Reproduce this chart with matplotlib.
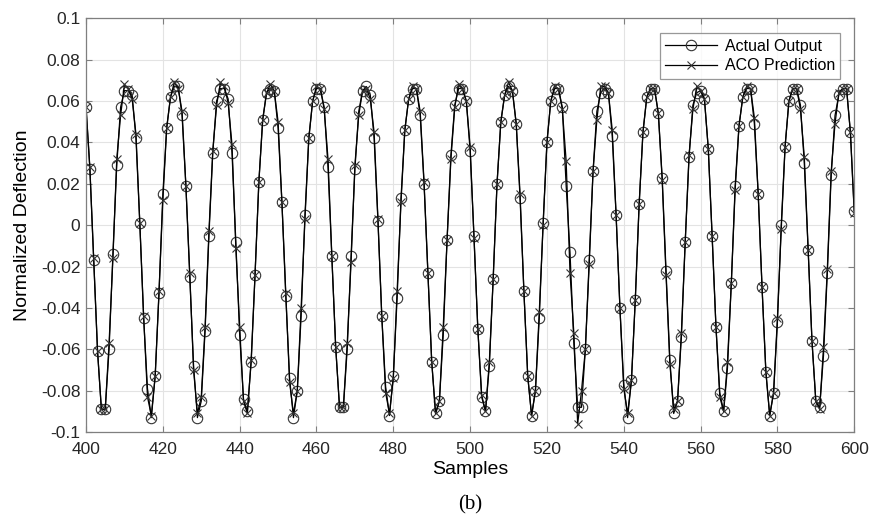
import matplotlib
matplotlib.use("Agg")
import matplotlib.pyplot as plt
import numpy as np

plt.rcParams['font.family'] = ['Liberation Sans', 'DejaVu Sans']
plt.rcParams['axes.unicode_minus'] = False

# sample index 400..600
samples = list(range(400, 601))

actual_output = [
    0.057, 0.027, -0.017, -0.061, -0.089, -0.089, -0.060, -0.014, 0.029, 0.057,   # 400-409
    0.065, 0.065, 0.063, 0.042, 0.001, -0.045, -0.079, -0.093, -0.073, -0.033,    # 410-419
    0.015, 0.047, 0.062, 0.067, 0.067, 0.053, 0.019, -0.025, -0.068, -0.093,      # 420-429
    -0.085, -0.051, -0.005, 0.035, 0.060, 0.066, 0.066, 0.061, 0.035, -0.008,     # 430-439
    -0.053, -0.084, -0.090, -0.066, -0.024, 0.021, 0.051, 0.064, 0.066, 0.065,    # 440-449
    0.047, 0.011, -0.034, -0.074, -0.093, -0.080, -0.044, 0.005, 0.042, 0.060,    # 450-459
    0.066, 0.066, 0.057, 0.028, -0.015, -0.059, -0.088, -0.088, -0.060, -0.015,   # 460-469
    0.027, 0.055, 0.065, 0.067, 0.063, 0.042, 0.002, -0.044, -0.078, -0.092,      # 470-479
    -0.073, -0.035, 0.013, 0.046, 0.061, 0.066, 0.066, 0.053, 0.020, -0.023,      # 480-489
    -0.066, -0.091, -0.085, -0.053, -0.007, 0.034, 0.058, 0.066, 0.066, 0.060,    # 490-499
    0.036, -0.005, -0.050, -0.083, -0.090, -0.068, -0.026, 0.020, 0.050, 0.063,   # 500-509
    0.067, 0.065, 0.049, 0.013, -0.032, -0.073, -0.092, -0.080, -0.045, 0.001,    # 510-519
    0.040, 0.060, 0.066, 0.066, 0.057, 0.019, -0.013, -0.057, -0.088, -0.088,     # 520-529
    -0.060, -0.017, 0.026, 0.055, 0.064, 0.066, 0.064, 0.043, 0.005, -0.040,      # 530-539
    -0.077, -0.093, -0.075, -0.036, 0.010, 0.045, 0.062, 0.066, 0.066, 0.054,     # 540-549
    0.023, -0.022, -0.065, -0.091, -0.085, -0.054, -0.008, 0.033, 0.058, 0.064,   # 550-559
    0.065, 0.061, 0.037, -0.005, -0.049, -0.081, -0.090, -0.069, -0.028, 0.019,   # 560-569
    0.048, 0.062, 0.066, 0.066, 0.049, 0.015, -0.030, -0.071, -0.092, -0.081,     # 570-579
    -0.047, 0.000, 0.038, 0.060, 0.066, 0.066, 0.058, 0.030, -0.012, -0.056,      # 580-589
    -0.085, -0.088, -0.063, -0.023, 0.024, 0.053, 0.063, 0.066, 0.066, 0.045,     # 590-599
    0.007,                                                                         # 600
]

aco_prediction = [
    0.057, 0.028, -0.016, -0.061, -0.089, -0.089, -0.057, -0.016, 0.032, 0.053,   # 400-409
    0.068, 0.066, 0.061, 0.044, 0.001, -0.044, -0.083, -0.092, -0.073, -0.032,    # 410-419
    0.012, 0.047, 0.062, 0.069, 0.066, 0.055, 0.019, -0.023, -0.070, -0.091,      # 420-429
    -0.083, -0.049, -0.003, 0.036, 0.058, 0.069, 0.067, 0.059, 0.039, -0.011,     # 430-439
    -0.049, -0.085, -0.091, -0.065, -0.024, 0.021, 0.051, 0.064, 0.068, 0.065,    # 440-449
    0.050, 0.011, -0.033, -0.076, -0.091, -0.080, -0.040, 0.003, 0.042, 0.060,    # 450-459
    0.067, 0.066, 0.056, 0.032, -0.015, -0.059, -0.088, -0.088, -0.057, -0.018,   # 460-469
    0.029, 0.053, 0.065, 0.066, 0.061, 0.045, 0.003, -0.044, -0.081, -0.091,      # 470-479
    -0.074, -0.032, 0.011, 0.046, 0.061, 0.067, 0.066, 0.055, 0.021, -0.023,      # 480-489
    -0.066, -0.091, -0.085, -0.049, -0.007, 0.032, 0.057, 0.068, 0.066, 0.060,    # 490-499
    0.038, -0.006, -0.050, -0.082, -0.090, -0.066, -0.026, 0.020, 0.050, 0.063,   # 500-509
    0.069, 0.065, 0.049, 0.015, -0.032, -0.073, -0.092, -0.080, -0.042, 0.000,    # 510-519
    0.040, 0.060, 0.067, 0.066, 0.056, 0.031, -0.023, -0.052, -0.096, -0.080,     # 520-529
    -0.060, -0.019, 0.026, 0.051, 0.067, 0.067, 0.064, 0.046, 0.005, -0.040,      # 530-539
    -0.079, -0.091, -0.075, -0.036, 0.010, 0.045, 0.062, 0.066, 0.066, 0.054,     # 540-549
    0.022, -0.024, -0.067, -0.089, -0.085, -0.052, -0.008, 0.034, 0.056, 0.067,   # 550-559
    0.065, 0.061, 0.037, -0.005, -0.049, -0.083, -0.090, -0.066, -0.028, 0.017,   # 560-569
    0.048, 0.062, 0.067, 0.066, 0.052, 0.015, -0.030, -0.071, -0.092, -0.081,     # 570-579
    -0.045, -0.002, 0.038, 0.060, 0.066, 0.066, 0.056, 0.033, -0.012, -0.056,     # 580-589
    -0.085, -0.089, -0.059, -0.021, 0.026, 0.049, 0.064, 0.066, 0.066, 0.045,     # 590-599
    0.006,                                                                         # 600
]

xticks = list(range(400, 601, 20))
yticks = [0.1, 0.08, 0.06, 0.04, 0.02, 0, -0.02, -0.04, -0.06, -0.08, -0.1]
ytick_labels = ['0.1', '0.08', '0.06', '0.04', '0.02', '0',
                '-0.02', '-0.04', '-0.06', '-0.08', '-0.1']

fig = plt.figure(figsize=(8.69, 5.2), dpi=100)
ax = fig.add_axes([0.099, 0.169, 0.884, 0.796])

ax.plot(samples, actual_output, color='black', lw=0.9, marker='o', ms=7.5,
        mfc='none', mec='#333333', mew=0.8, label='Actual Output')
ax.plot(samples, aco_prediction, color='black', lw=0.9, marker='x', ms=6,
        mec='#333333', mew=0.8, label='ACO Prediction')

ax.set_xlim(400, 600)
ax.set_ylim(-0.1, 0.1)
ax.set_xticks(xticks)
ax.set_yticks(yticks)
ax.set_yticklabels(ytick_labels)
ax.grid(True, color='#e3e3e3', lw=0.8)
ax.set_axisbelow(True)

for s in ax.spines.values():
    s.set_color('#7f7f7f')
    s.set_linewidth(0.9)
ax.tick_params(direction='in', length=4, width=0.8, color='#7f7f7f',
               labelsize=12.5, labelcolor='#262626', top=True, right=True, pad=4)
ax.tick_params(axis='x', pad=7)

ax.set_xlabel('Samples', fontsize=14, labelpad=3)
ax.set_ylabel('Normalized Deflection', fontsize=14, labelpad=7)

leg = ax.legend(loc='upper right', bbox_to_anchor=(0.982, 0.964), fontsize=11.5,
                frameon=True, fancybox=False, handlelength=3.2, borderaxespad=0,
                borderpad=0.35, labelspacing=0.3, handletextpad=0.5)
leg.get_frame().set_edgecolor('#7f7f7f')
leg.get_frame().set_linewidth(0.9)

fig.text(0.541, 0.02, '(b)', fontsize=15, family='Liberation Serif', ha='center')

fig.savefig('out.png', dpi=100)
